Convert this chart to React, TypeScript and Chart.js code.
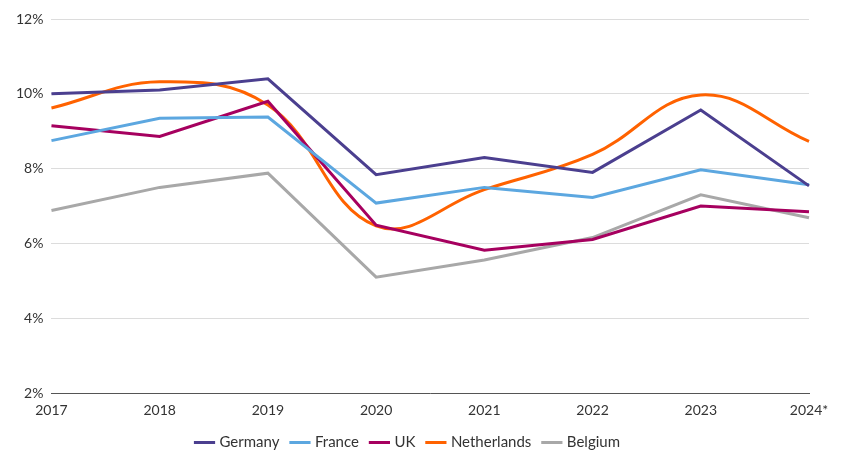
import React, { useEffect, useRef } from "react";
import { Chart, registerables } from "chart.js";
Chart.register(...registerables);

const years = ["2017", "2018", "2019", "2020", "2021", "2022", "2023", "2024*"];
const germany = [10.0, 10.1, 10.4, 7.84, 8.3, 7.9, 9.57, 7.54];
const france = [8.75, 9.35, 9.38, 7.08, 7.5, 7.23, 7.97, 7.57];
const uk = [9.15, 8.86, 9.8, 6.49, 5.82, 6.11, 7.0, 6.85];
const netherlands = [9.62, 10.32, 9.7, 6.47, 7.44, 8.38, 9.97, 8.73];
const belgium = [6.88, 7.5, 7.88, 5.1, 5.56, 6.16, 7.3, 6.69];

export default function App() {
  const ref = useRef<HTMLCanvasElement>(null);
  useEffect(() => {
    document.body.style.margin = "0";
    const mk = (label: string, data: number[], color: string, tension = 0) => ({
      label, data, borderColor: color, backgroundColor: color, borderWidth: 3,
      pointRadius: 0, tension, fill: false,
    });
    const chart = new Chart(ref.current!, {
      type: "line",
      data: {
        labels: years,
        datasets: [
          mk("Germany", germany, "#4b3f8f"),
          mk("France", france, "#5ca7e0"),
          mk("UK", uk, "#a6005f"),
          mk("Netherlands", netherlands, "#ff6200", 0.4),
          mk("Belgium", belgium, "#a8a8a8"),
        ],
      },
      options: {
        animation: false,
        responsive: false,
        layout: { padding: { left: 8, right: 48, top: 19, bottom: 12 } },
        plugins: {
          legend: {
            position: "bottom",
            labels: {
              usePointStyle: true, pointStyle: "line", boxWidth: 44, padding: 13,
              color: "#333", font: { family: "Lato", size: 15 },
            },
          },
          tooltip: { enabled: false },
        },
        scales: {
          x: {
            offset: false,
            grid: { display: false, drawOnChartArea: false, drawTicks: true, tickLength: 6, color: "#555" },
            border: { color: "#555" },
            ticks: { color: "#333", font: { family: "Lato", size: 14 }, maxRotation: 0 },
          },
          y: {
            min: 2, max: 12,
            ticks: { stepSize: 2, color: "#333", font: { family: "Lato", size: 14 }, callback: (v: any) => v + "%", padding: 8 },
            grid: { color: "#dcdcdc", drawTicks: false },
            border: { display: false },
          },
        },
      },
    });
    return () => chart.destroy();
  }, []);
  return <canvas ref={ref} width={857} height={472} />;
}
